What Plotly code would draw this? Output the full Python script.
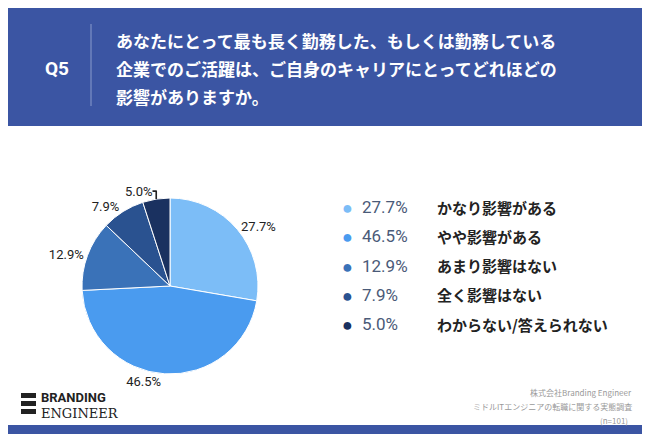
import plotly.graph_objects as go

labels = ['かなり影響がある', 'やや影響がある', 'あまり影響はない', '全く影響はない', 'わからない/答えられない']
values = [27.7, 46.5, 12.9, 7.9, 5.0]
colors = ['#7cbdf7', '#4a9bef', '#3a72b8', '#2a5290', '#1a3160']

W, H = 650, 434
FONT = 'Noto Sans CJK JP'
OFF = 8  # page body margin shifts the figure by 8px

def px(x):
    return (x - OFF) / W

def py(y):
    return 1 - (y - OFF) / H

fig = go.Figure()
fig.add_trace(go.Pie(
    labels=labels, values=values, sort=False, direction='clockwise', rotation=0,
    marker=dict(colors=colors, line=dict(color='white', width=1)),
    texttemplate='%{value:.1f}%', textposition='outside',
    textfont=dict(family='Roboto', size=13, color='#222'),
    domain=dict(x=[px(82), px(258)], y=[py(374), py(198)]),
    showlegend=False, hoverinfo='label+value',
))

shapes = [
    dict(type='rect', xref='paper', yref='paper', x0=px(8), x1=px(642), y0=py(425), y1=py(126),
         fillcolor='white', line=dict(width=0), layer='below'),
    dict(type='line', xref='paper', yref='paper', x0=px(91), x1=px(91), y0=py(24), y1=py(106),
         line=dict(color='#8a9ccc', width=1)),
]
# logo icon bars
for y0 in (393, 401, 409):
    shapes.append(dict(type='rect', xref='paper', yref='paper', x0=px(21), x1=px(36),
                       y0=py(y0 + 5), y1=py(y0), fillcolor='#222', line=dict(width=0)))

ann = [
    dict(x=px(57), y=py(68), text='<b>Q5</b>', font=dict(family='Roboto', size=19, color='white')),
]
title_lines = ['あなたにとって最も長く勤務した、もしくは勤務している',
               '企業でのご活躍は、ご自身のキャリアにとってどれほどの',
               '影響がありますか。']
for i, t in enumerate(title_lines):
    ann.append(dict(x=px(114), y=py(40 + 28 * i), xanchor='left', text='<b>%s</b>' % t,
                    font=dict(family=FONT, size=17, color='white')))

for i, (lab, v) in enumerate(zip(labels, values)):
    y = 207 + 29.3 * i
    ann.append(dict(x=px(347), y=py(y), text='●', font=dict(size=18, color=colors[i])))
    ann.append(dict(x=px(360), y=py(y), xanchor='left', text='%.1f%%' % v,
                    font=dict(family='Roboto', size=17, color='#4a5a78')))
    ann.append(dict(x=px(435), y=py(y), xanchor='left', text='<b>%s</b>' % lab,
                    font=dict(family=FONT, size=15, color='#222')))

ann += [
    dict(x=px(39), y=py(397), xanchor='left', text='<b>BRANDING</b>', font=dict(family='Roboto', size=13, color='#222')),
    dict(x=px(39), y=py(413), xanchor='left', text='ENGINEER', font=dict(family='DejaVu Serif', size=13, color='#222')),
    dict(x=px(634), y=py(392), xanchor='right', text='株式会社Branding Engineer', font=dict(family=FONT, size=8, color='#999')),
    dict(x=px(634), y=py(406), xanchor='right', text='ミドルITエンジニアの転職に関する実態調査', font=dict(family=FONT, size=8, color='#999')),
    dict(x=px(630), y=py(420), xanchor='right', text='(n=101)', font=dict(family=FONT, size=8, color='#999')),
]
for a in ann:
    a.update(xref='paper', yref='paper', showarrow=False, yanchor='middle')
    a.setdefault('xanchor', 'center')

fig.update_layout(width=W, height=H, margin=dict(l=0, r=0, t=0, b=0),
                  paper_bgcolor='#3b55a3', plot_bgcolor='#3b55a3',
                  shapes=shapes, annotations=ann)
fig.write_html('out.html')
